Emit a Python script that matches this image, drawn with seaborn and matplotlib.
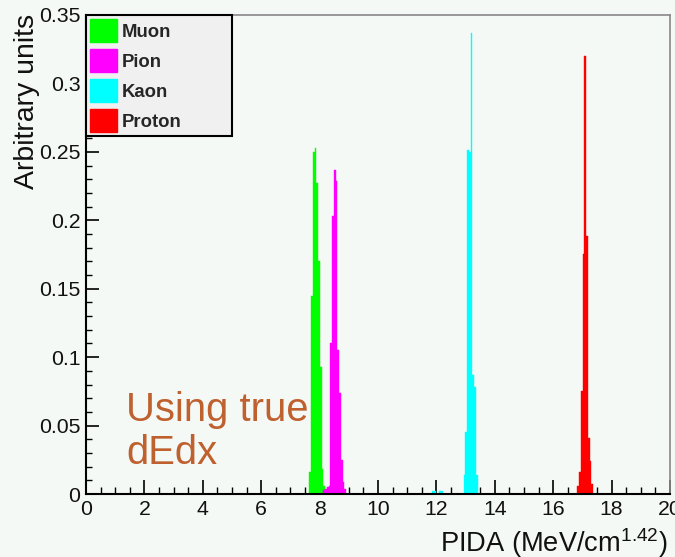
import numpy as np
import pandas as pd
import matplotlib
matplotlib.use("Agg")
import matplotlib.pyplot as plt
from matplotlib.patches import Patch
from matplotlib.ticker import MultipleLocator, FuncFormatter
import seaborn as sns

# ---------------- data (bin centres in PIDA, normalised contents) ----------------
particles = ["Muon", "Pion", "Kaon", "Proton"]
colors = ["#00ff00", "#ff00ff", "#00ffff", "#ff0000"]

muon_pida = [7.68, 7.74, 7.80, 7.86, 7.92, 7.98, 8.04, 8.10, 8.16]
muon_frac = [0.016, 0.145, 0.250, 0.253, 0.227, 0.170, 0.093, 0.018, 0.006]

pion_pida = [8.16, 8.22, 8.28, 8.34, 8.40, 8.46, 8.52, 8.58, 8.64, 8.70, 8.76, 8.82, 8.88]
pion_frac = [0.003, 0.004, 0.005, 0.006, 0.110, 0.203, 0.237, 0.229, 0.105, 0.074, 0.025, 0.009, 0.004]

kaon_pida = [11.88, 11.94, 12.12, 12.18, 12.96, 13.02, 13.08, 13.14, 13.20, 13.26, 13.32, 13.38]
kaon_frac = [0.002, 0.002, 0.002, 0.002, 0.014, 0.045, 0.251, 0.250, 0.337, 0.087, 0.078, 0.014]

proton_pida = [16.86, 16.92, 16.98, 17.04, 17.10, 17.16, 17.22, 17.28, 17.34]
proton_frac = [0.006, 0.016, 0.075, 0.175, 0.320, 0.1885, 0.041, 0.024, 0.007]

x_ticks = [0, 2, 4, 6, 8, 10, 12, 14, 16, 18, 20]
y_ticks = [0, 0.05, 0.1, 0.15, 0.2, 0.25, 0.3, 0.35]

pida_list = [muon_pida, pion_pida, kaon_pida, proton_pida]
frac_list = [muon_frac, pion_frac, kaon_frac, proton_frac]
df = pd.concat(
    [pd.DataFrame({"pida": p, "frac": f, "particle": n})
     for p, f, n in zip(pida_list, frac_list, particles)],
    ignore_index=True,
)

# ---------------- style ----------------
sns.set_theme(style="white")
plt.rcParams["font.family"] = ["Liberation Sans", "DejaVu Sans"]
plt.rcParams["mathtext.default"] = "regular"
bg = "#f5f9f6"

fig = plt.figure(figsize=(6.75, 5.57), dpi=100, facecolor=bg)
ax = fig.add_axes([86 / 675, 1 - 494 / 557, (670 - 86) / 675, (494 - 15) / 557])
ax.set_facecolor(bg)

edges = [float(e) for e in np.arange(-0.03, 20.03, 0.06)]
for name, col in zip(particles, colors):
    sub = df[df["particle"] == name]
    sns.histplot(data=sub, x="pida", weights="frac", bins=edges, ax=ax,
                 color=col, edgecolor=col, linewidth=0.3, alpha=1.0,
                 element="bars", fill=True)

ax.set_xlim(0, 20)
ax.set_ylim(0, 0.35)
ax.set_xlabel("")
ax.set_ylabel("")

ax.xaxis.set_major_locator(MultipleLocator(2))
ax.xaxis.set_minor_locator(MultipleLocator(0.5))
ax.yaxis.set_major_locator(MultipleLocator(0.05))
ax.yaxis.set_minor_locator(MultipleLocator(0.01))
ax.set_xticks(x_ticks)
ax.set_yticks(y_ticks)
ax.yaxis.set_major_formatter(FuncFormatter(lambda v, p: "%g" % round(v, 3)))
ax.xaxis.set_major_formatter(FuncFormatter(lambda v, p: "%g" % v))

ax.tick_params(axis="x", which="major", direction="in", length=10, width=1.2,
               colors="black", labelsize=15.3, pad=4, bottom=True, top=False)
ax.tick_params(axis="x", which="minor", direction="in", length=5, width=1.0,
               colors="black", bottom=True, top=False)
ax.tick_params(axis="y", which="major", direction="in", length=9, width=1.2,
               colors="black", labelsize=15.3, pad=4, left=True, right=False)
ax.tick_params(axis="y", which="minor", direction="in", length=4.5, width=1.0,
               colors="black", left=True, right=False)
for lab in ax.get_xticklabels() + ax.get_yticklabels():
    lab.set_color("#111111")

for s in ["left", "bottom"]:
    ax.spines[s].set_color("black")
    ax.spines[s].set_linewidth(1.5)
for s in ["top", "right"]:
    ax.spines[s].set_color("#888888")
    ax.spines[s].set_linewidth(1.2)

# legend (ROOT-style fixed box)
handles = [Patch(facecolor=c, edgecolor=c, label=n) for n, c in zip(particles, colors)]
leg = ax.legend(handles=handles, loc="upper left",
                bbox_to_anchor=(0.0, 0.5, (232 - 86) / 584, 0.5), mode="expand",
                borderaxespad=0.0, fancybox=False, framealpha=1.0,
                facecolor="#f0f0f0", edgecolor="black",
                prop={"weight": "bold", "size": 13.3},
                handlelength=1.46, handleheight=1.54, handletextpad=0.27,
                labelspacing=0.38, borderpad=0.22)
leg.get_frame().set_linewidth(1.5)

# axis titles (ROOT style: right / top aligned)
fig.text(668 / 675, 1 - 552 / 557, r"PIDA (MeV/cm$^{1.42}$)", ha="right",
         va="baseline", fontsize=19.6, color="#111111")
fig.text(14 / 675, 1 - 14 / 557, "Arbitrary units", rotation=90, ha="left",
         va="top", fontsize=20.5, color="#111111")

fig.text(126 / 675, 1 - 391 / 557, "Using true\ndEdx", ha="left", va="top",
         fontsize=28.8, color="#bf602f", linespacing=1.17)

fig.savefig("out.png", dpi=100, facecolor=bg)
